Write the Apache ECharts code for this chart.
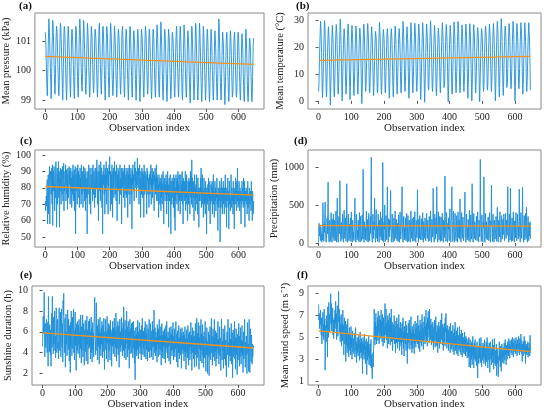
<!DOCTYPE html>
<html>
<head>
<meta charset="utf-8">
<script src="https://cdn.jsdelivr.net/npm/echarts@6/dist/echarts.min.js"></script>
<style>html,body{margin:0;background:#fff}#main{width:550px;height:413px}</style>
</head>
<body>
<div id="main"></div>
<script>
var pressure = [
101.3,101.1,100.8,100.3,99.8,99.4,99.15,99.5,100.1,100.8,101.3,101.75,
101.5,101.2,100.8,100.4,99.9,99.5,99.05,99.4,100.1,100.8,101.4,101.7,
101.6,101.3,100.7,100.3,99.9,99.4,99.2,99.5,100.2,100.9,101.3,101.5,
101.4,101.1,100.6,100.2,99.8,99.3,99.15,99.4,100.0,100.8,101.3,101.6,
101.5,101.2,100.8,100.3,99.8,99.4,99.0,99.4,100.1,100.8,101.3,101.5,
101.4,101.2,100.7,100.2,99.7,99.3,99.0,99.3,100.0,100.7,101.2,101.5,
101.5,101.1,100.7,100.3,99.8,99.4,99.1,99.4,100.1,100.8,101.3,101.4,
101.4,101.0,100.6,100.2,99.8,99.3,99.05,99.4,100.0,100.7,101.2,101.5,
101.5,101.2,100.7,100.3,99.8,99.4,99.1,99.4,100.1,100.8,101.4,101.75,
101.6,101.2,100.8,100.3,99.9,99.5,99.3,99.5,100.1,100.8,101.3,101.7,
101.5,101.1,100.7,100.2,99.8,99.4,99.2,99.5,100.1,100.7,101.2,101.6,
101.4,101.1,100.6,100.1,99.7,99.3,99.1,99.4,100.0,100.7,101.2,101.5,
101.5,101.2,100.7,100.2,99.8,99.4,99.25,99.5,100.1,100.8,101.3,101.4,
101.4,101.1,100.7,100.2,99.8,99.3,99.1,99.4,100.0,100.7,101.2,101.5,
101.6,101.2,100.7,100.2,99.8,99.4,99.2,99.5,100.1,100.8,101.3,101.5,
101.4,101.1,100.6,100.2,99.7,99.3,99.0,99.3,100.0,100.7,101.3,101.5,
101.5,101.2,100.7,100.3,99.8,99.4,99.1,99.4,100.0,100.8,101.3,101.6,
101.4,101.1,100.6,100.1,99.7,99.3,99.15,99.4,100.0,100.7,101.2,101.5,
101.3,101.0,100.6,100.1,99.7,99.3,99.1,99.4,100.0,100.7,101.2,101.4,
101.4,101.1,100.7,100.2,99.8,99.4,99.2,99.5,100.0,100.7,101.2,101.4,
101.5,101.1,100.6,100.2,99.7,99.3,99.1,99.4,100.0,100.7,101.2,101.4,
101.3,101.0,100.6,100.1,99.7,99.3,99.0,99.4,100.0,100.6,101.2,101.5,
101.4,101.1,100.7,100.2,99.8,99.3,99.1,99.4,100.0,100.7,101.2,101.35,
101.4,101.0,100.6,100.1,99.7,99.3,99.0,99.3,99.9,100.6,101.1,101.4,
101.3,101.0,100.6,100.1,99.7,99.3,98.95,99.3,99.9,100.6,101.2,101.4,
101.4,101.1,100.6,100.1,99.7,99.3,99.1,99.4,100.0,100.7,101.2,101.5,
101.5,101.2,100.7,100.2,99.8,99.4,99.2,99.4,100.0,100.7,101.2,101.4,
101.3,101.0,100.6,100.1,99.7,99.3,99.05,99.3,99.9,100.6,101.2,101.4,
101.4,101.1,100.6,100.1,99.7,99.3,99.1,99.4,100.0,100.7,101.2,101.55,
101.5,101.1,100.7,100.2,99.7,99.3,99.1,99.4,100.0,100.7,101.2,101.65,
101.4,101.0,100.6,100.1,99.7,99.2,99.0,99.3,99.9,100.6,101.2,101.4,
101.3,101.0,100.6,100.1,99.6,99.2,98.95,99.3,99.9,100.6,101.1,101.4,
101.4,101.1,100.6,100.1,99.7,99.3,99.05,99.3,99.9,100.6,101.2,101.3,
101.3,101.0,100.6,100.1,99.7,99.3,99.1,99.4,100.0,100.6,101.1,101.4,
101.5,101.1,100.6,100.1,99.7,99.3,99.1,99.4,99.9,100.6,101.2,101.5,
101.4,101.0,100.6,100.1,99.6,99.2,99.0,99.3,99.9,100.6,101.1,101.55,
101.5,101.1,100.7,100.1,99.7,99.3,99.1,99.3,99.9,100.6,101.1,101.35,
101.3,101.0,100.5,100.0,99.6,99.2,98.9,99.3,99.9,100.6,101.2,101.5,
101.4,101.1,100.6,100.1,99.7,99.3,99.0,99.3,99.9,100.6,101.2,101.6,
101.5,101.1,100.6,100.1,99.6,99.2,99.0,99.3,99.9,100.5,101.1,101.6,
101.4,101.0,100.6,100.0,99.6,99.2,98.95,99.2,99.8,100.5,101.1,101.5,
101.3,101.0,100.5,100.0,99.6,99.2,99.0,99.3,99.9,100.6,101.1,101.4,
101.3,101.0,100.5,100.0,99.6,99.2,98.95,99.2,99.8,100.5,101.1,101.4,
101.4,101.0,100.5,100.0,99.6,99.2,99.0,99.3,99.8,100.5,101.1,101.35,
101.3,100.9,100.5,100.0,99.6,99.2,99.0,99.3,99.9,100.6,101.2,101.75,
101.6,101.1,100.6,100.0,99.6,99.2,99.0,99.3,99.9,100.5,101.0,101.3,
101.3,100.9,100.5,100.0,99.6,99.1,98.85,99.2,99.8,100.5,101.0,101.2,
101.3,101.0,100.5,100.0,99.6,99.2,98.95,99.2,99.8,100.5,101.1,101.35,
101.2,100.9,100.5,100.0,99.5,99.1,99.05,99.3,99.9,100.5,101.0,101.2,
101.3,101.0,100.5,100.0,99.6,99.2,99.1,99.3,99.8,100.5,101.1,101.3,
101.2,100.9,100.5,100.0,99.6,99.2,99.0,99.3,99.8,100.4,101.0,101.25,
101.3,100.9,100.4,99.9,99.5,99.1,98.95,99.2,99.8,100.4,101.0,101.4,
101.3,100.9,100.4,99.9,99.5,99.1,98.95,99.2,99.8,100.5,101.0,101.1,
101.0,100.8,100.4,99.9,99.5,99.1,98.95,99.2,99.8,100.4,100.9,101.1
];
var temperature = [
3.5,6,11,17,22,26,29.5,29,24,18,11,4,
1.2,5,10,16,21,26,29.8,29,24,18,11,5,
1.5,4,10,16,21,25,27.5,27,23,17,10,3,
-1.5,4,9,15,21,25,28,27.5,23,17,10,3,
1.5,5,10,16,22,26,28.3,28,24,18,11,4,
2.5,5,10,16,21,26,30.3,29.5,25,19,11,4,
0,4,10,16,21,25,26.8,26.5,23,17,10,4,
2.5,5,10,16,22,26,28.5,28,24,18,11,5,
0.5,4,10,16,21,26,28,27.5,23,17,11,4,
2,5,10,16,21,25,27.8,27.5,24,18,11,4,
2.5,5,11,16,21,25,27,27,23,17,10,3,
-1,3,9,15,21,25,28.5,28,24,18,11,5,
3.5,6,11,16,22,26,28.7,28,24,18,11,4,
3,5,10,16,21,25,27.5,27,23,17,11,5,
2,5,10,15,20,24,25.8,26,23,17,10,4,
3,5,11,16,22,26,29.2,28.5,24,18,11,5,
2.5,5,10,16,21,25,26.5,26.5,23,17,11,4,
3,6,11,16,21,25,26.8,26.5,23,17,11,5,
1,4,10,16,21,25,26.8,27,23,17,11,5,
1.5,4,10,16,21,25,27.8,27.5,23,17,11,5,
2.5,5,10,16,21,25,26.8,26.5,23,18,11,5,
3,6,11,17,22,26,29.5,29,24,18,12,5,
3.5,6,11,16,21,25,27.5,27,23,18,11,4,
1,4,10,16,21,25,29,28.5,24,18,11,5,
3,6,11,16,21,25,28.8,28.5,24,18,11,5,
3.5,6,11,16,22,26,28.5,28,24,18,11,4,
0.5,4,10,16,21,26,29,28.5,24,18,11,4,
-0.5,4,10,16,21,25,28.5,28,24,18,12,5,
4,6,11,17,22,26,29.7,29,24,18,11,5,
3.5,6,11,16,21,25,28,27.5,24,18,11,4,
2,5,10,16,21,25,27,27,23,18,11,5,
3,6,11,16,22,26,29,28.5,24,18,12,5,
4.5,7,11,17,22,26,28.3,28,24,18,11,4,
-0.3,4,10,16,21,25,28,27.5,24,18,11,4,
2.5,5,11,16,21,26,29.3,29,24,18,11,5,
3,6,11,16,22,26,29.5,29,25,19,12,5,
3,5,10,16,21,25,28.2,28,24,18,12,5,
3.5,6,11,17,22,26,28.5,28,24,18,12,6,
1,5,10,16,21,26,28.6,28,24,18,12,5,
0,4,10,16,21,26,28.3,28,24,18,11,5,
3,6,11,17,22,26,27.2,27,24,18,11,4,
-0.3,4,10,16,21,25,26.8,26.5,24,18,12,5,
3.5,6,11,17,22,26,27.8,27.5,24,18,12,5,
4,6,11,17,22,26,28.5,28,24,18,12,6,
3.5,6,11,17,22,26,28.7,28.5,24,19,12,5,
0,4,10,16,22,26,29.5,29,25,19,12,5,
1.5,5,11,17,22,27,30.5,30,25,19,12,5,
2,5,11,17,22,26,27.8,27.5,24,19,12,5,
5,7,12,17,22,26,28.7,28.5,24,19,12,6,
4.5,7,11,17,22,26,29.5,29,25,19,12,5,
0,4,10,17,22,26,28.7,28.5,24,19,12,6,
4.5,7,12,17,22,26,29,28.5,25,19,12,6,
2.5,6,11,17,22,26,29,28.5,24,19,12,5,
3.5,6,11,17,22,26,29,28.5,24,18.5,12,4
];
var humidity = [
72,66,70,75,69,80,85,58,78,88,64,82,
86,93,58,80,90,84,76,88,92,70,94,57,
84,90,78,93,88,66,82,74,92,96,86,56,
80,92,70,88,84,96,74,90,56,86,78,92,
85,70,91,80,76,93,88,72,84,95,66,82,
78,90,82,94,72,86,91,76,88,67,92,80,
74,88,93,82,90,70,84,92,78,86,68,90,
85,76,94,72,88,82,91,66,86,93,52,80,
88,78,92,70,86,94,80,90,74,88,68,84,
92,80,86,70,94,84,76,90,82,68,88,93,
78,88,72,92,84,66,90,80,74,86,52,82,
90,76,88,94,80,70,86,92,78,64,88,84,
80,92,86,72,94,82,76,90,84,68,88,92,
74,86,92,80,97,88,70,84,90,60,86,94,
84,78,90,72,96,86,80,92,68,88,52,84,
90,82,94,76,88,64,92,84,78,96,70,88,
82,92,86,64,90,80,94,88,99,84,66,90,
78,88,70,94,84,62,90,80,92,74,86,96,
84,76,90,82,72,94,86,60,88,80,92,78,
90,82,70,88,94,76,86,80,92,58,84,90,
80,92,86,74,90,82,94,68,88,80,76,92,
86,74,90,84,62,92,80,88,76,94,84,70,
88,80,92,76,86,55,90,82,94,78,88,84,
72,90,96,84,92,80,86,74,90,82,98,88,
80,92,84,70,88,94,78,86,62,90,82,76,
92,84,74,90,80,88,62,94,82,76,90,86,
78,88,82,64,92,84,90,76,86,80,68,88,
84,76,90,82,94,70,86,80,92,74,88,82,
90,80,66,88,84,92,76,86,80,94,72,88,
78,86,72,82,62,88,80,84,70,86,76,66,
84,74,88,70,82,76,90,72,58,84,78,86,
72,82,76,88,80,64,84,76,90,72,82,56,
80,86,72,82,88,74,52,84,76,70,86,78,
74,84,68,88,78,62,86,54,80,72,88,76,
84,70,86,76,90,66,82,74,88,72,78,64,
76,88,72,82,74,90,70,84,58,86,76,80,
72,84,76,90,66,82,74,88,70,78,60,84,
80,70,86,76,84,64,80,90,74,88,70,97,
76,86,68,80,74,84,60,78,88,72,80,66,
82,74,88,70,78,64,86,76,80,56,78,72,
80,72,86,76,92,68,80,74,88,70,78,62,
76,86,70,80,74,64,84,72,78,52,80,74,
70,82,74,86,66,78,72,84,58,76,70,82,
78,72,84,64,80,74,88,70,78,62,76,84,
72,80,66,78,74,86,70,76,54,80,74,68,
78,72,84,47,74,80,68,86,72,78,64,80,
74,84,70,78,64,80,72,88,74,68,78,56,
80,72,76,86,68,78,55,74,84,70,76,66,
74,88,78,68,80,72,76,64,84,70,78,55,
76,80,70,86,74,78,66,84,72,92,76,68,
78,70,84,74,66,80,72,78,58,76,70,84,
72,80,74,68,86,76,70,84,56,78,72,76,
80,70,78,64,74,84,68,76,72,60,80,74,
70,78,74,66,84,72,76,60,78,70,64,72
];
var precipitation = [
5,260,180,90,240,120,30,210,150,60,10,120,
40,530,300,90,20,250,140,380,540,160,40,10,
60,200,330,120,390,800,250,60,10,180,300,90,
20,150,400,260,80,10,310,200,70,380,140,30,
90,300,180,30,260,420,120,10,200,590,160,40,
10,180,350,120,230,820,300,80,20,270,160,50,
100,380,220,40,10,290,430,150,60,200,330,70,
20,250,780,300,90,10,200,380,140,30,250,120,
60,330,180,20,410,250,80,10,300,190,60,140,
30,210,440,590,200,60,10,260,380,120,40,170,
70,300,160,20,230,400,110,10,350,220,80,30,
150,370,210,50,970,320,90,10,280,180,60,200,
40,260,420,150,20,310,200,60,10,390,250,80,
30,200,350,120,500,1130,290,70,10,240,380,100,
60,280,170,590,210,40,10,320,440,150,60,230,
20,160,380,250,70,10,300,200,80,410,180,40,
90,330,210,30,1060,300,120,10,270,180,500,70,
20,250,360,140,40,210,740,280,60,10,320,190,
80,300,170,420,690,200,60,10,250,380,130,40,
10,200,330,120,30,280,420,150,60,240,310,90,
30,260,150,20,370,220,70,10,300,410,160,50,
100,280,410,740,230,60,10,250,350,120,40,200,
60,330,180,30,260,390,140,10,220,360,100,20,
150,300,210,50,10,280,420,170,60,230,320,80,
20,180,340,120,30,270,410,160,60,10,300,200,
70,250,700,240,80,10,310,190,60,360,220,40,
20,160,320,150,40,250,400,130,10,280,210,60,
90,330,200,30,10,260,390,140,60,300,210,50,
20,180,350,120,30,270,420,160,60,10,310,200,
80,260,720,280,90,10,230,380,140,50,200,330,
120,740,300,60,10,250,410,170,40,220,350,90,
20,190,340,130,30,270,390,150,60,10,300,220,
70,280,880,350,100,20,240,400,160,50,10,260,
180,330,120,30,260,450,210,60,10,290,380,740,
300,110,20,250,420,160,50,10,280,390,150,60,
30,200,360,140,10,260,410,180,70,300,220,50,
580,250,90,10,280,400,150,60,230,340,120,30,
100,290,420,670,230,60,10,250,380,140,40,200,
70,310,180,30,260,430,150,10,220,370,110,50,
150,780,300,80,10,240,390,160,60,280,210,40,
20,170,350,130,30,270,410,150,60,10,300,230,
80,290,1100,400,120,20,250,370,140,50,10,270,
200,870,300,90,10,240,390,160,60,280,220,40,
20,170,340,130,30,260,400,150,60,10,290,230,
760,280,110,20,250,380,160,60,10,300,210,50,
30,190,350,140,20,270,470,180,60,10,300,230,
80,280,410,150,40,10,250,360,130,50,200,310,
110,260,380,140,30,10,240,390,170,60,230,300,
100,300,740,250,70,10,260,380,150,40,720,280,
90,20,180,330,120,30,250,410,160,60,10,290,
200,70,300,400,140,30,10,260,380,120,50,220,
80,710,280,90,10,250,400,160,60,230,320,730,
250,80,10,200,360,130,40,270,390,150,60,470,
180,40,10,220,350,120,30,260,180,90,280,50
];
var sunshine = [
4.6,6.2,7.5,5.8,7.0,9.8,6.0,3.6,5.2,6.8,4.5,5.6,
7.2,6.8,4.0,5.5,6.9,2.7,9.4,6.8,5.2,4.1,6.7,5.0,
3.8,6.2,2.7,5.9,7.8,4.5,9.4,6.5,5.0,3.9,7.4,4.8,
6.3,8.0,4.2,5.6,3.5,6.7,8.3,5.1,4.0,6.5,7.2,4.4,
5.0,3.4,7.1,8.3,5.4,4.2,6.4,7.9,3.6,5.2,8.2,6.0,
4.5,6.8,3.1,9.0,7.6,9.7,5.3,4.0,6.1,7.3,2.6,5.4,
7.7,4.8,6.0,3.7,5.5,8.1,6.2,4.3,7.2,5.0,3.2,6.6,
5.8,2.1,6.9,4.6,8.0,5.4,3.7,6.3,7.4,4.4,5.6,8.2,
4.0,6.1,3.3,5.5,7.9,4.7,6.4,2.3,5.1,6.8,4.2,7.0,
5.4,3.9,6.6,4.8,7.2,5.6,3.5,6.0,4.4,7.6,5.1,3.0,
6.5,4.2,5.8,7.6,3.6,5.1,6.8,4.5,2.8,6.2,5.3,7.1,
4.1,5.8,3.2,6.4,7.5,4.8,6.2,2.9,5.4,7.0,4.4,5.9,
7.2,4.6,6.0,3.4,5.7,7.4,4.0,6.3,3.1,5.5,6.9,4.3,
5.9,3.6,6.8,7.8,9.3,7.0,5.2,3.8,6.1,8.8,5.0,4.2,
6.6,3.3,5.4,7.2,4.6,6.0,2.9,5.8,7.4,4.4,5.9,3.7,
6.3,4.8,7.0,5.2,3.5,6.6,4.1,5.7,7.3,4.5,2.4,6.0,
5.1,7.2,4.3,6.0,3.4,5.8,7.5,4.9,6.2,3.1,5.5,6.8,
4.2,6.6,5.0,3.3,7.1,4.7,6.2,5.5,2.7,6.0,4.6,7.0,
5.3,3.9,6.4,4.8,7.3,5.7,3.6,6.1,4.5,7.8,5.0,3.2,
6.5,4.4,5.9,7.0,3.8,5.2,6.6,2.6,5.6,7.2,4.5,6.0,
4.1,5.7,7.4,4.7,6.3,3.7,5.4,6.9,4.2,8.4,6.0,3.5,
5.6,7.1,4.4,6.2,3.3,5.8,8.0,4.9,6.5,3.6,5.3,7.0,
4.3,6.0,2.5,5.4,7.2,4.6,6.3,3.9,5.7,6.8,4.0,5.5,
6.9,3.5,5.2,7.0,4.4,6.1,3.0,5.6,1.4,4.8,6.4,4.1,
5.8,3.7,6.5,4.3,7.1,5.0,3.4,6.0,4.6,6.9,5.3,3.9,
6.2,4.5,5.7,3.3,6.6,4.9,7.3,5.4,3.8,6.1,4.4,5.9,
3.6,6.4,4.8,7.0,5.2,3.4,5.9,4.3,6.7,5.0,3.2,5.7,
6.3,4.1,5.6,7.2,4.6,3.5,5.8,6.8,4.2,5.5,3.6,6.1,
4.5,7.0,5.1,3.3,6.2,4.6,8.1,5.7,4.0,6.4,3.7,5.3,
6.0,4.2,5.5,3.1,6.7,4.8,5.9,3.6,6.3,4.4,7.2,5.0,
3.8,5.6,4.3,6.5,2.8,5.2,6.8,4.1,5.7,3.5,6.1,4.6,
5.9,3.4,6.3,4.7,5.6,3.0,6.6,4.4,5.2,7.0,4.0,5.5,
3.5,6.0,4.6,5.4,3.2,6.4,4.8,5.9,2.9,5.0,6.5,4.2,
5.7,3.7,6.2,4.3,6.9,4.9,3.3,5.6,4.1,6.3,3.6,5.2,
4.4,7.0,5.0,3.1,5.8,4.5,6.1,2.6,5.3,4.0,6.6,4.8,
3.4,5.5,4.2,6.3,3.8,5.9,2.5,4.9,6.4,4.3,5.6,3.9,
6.0,4.5,3.2,5.7,4.1,6.5,3.6,5.3,2.4,4.8,6.2,4.0,
5.4,3.5,6.6,4.4,2.8,5.8,4.2,6.0,3.3,5.2,4.6,6.9,
3.9,5.7,2.3,4.8,6.4,4.0,5.5,3.4,6.1,4.5,2.6,5.6,
4.3,6.8,3.8,5.2,2.7,7.3,4.6,5.9,3.5,5.0,6.9,4.1,
2.4,5.5,4.4,6.6,3.2,5.1,7.2,4.2,5.8,3.0,4.9,6.7,
3.7,5.6,2.6,4.6,6.0,3.5,5.3,7.0,4.1,2.2,5.4,3.8,
6.4,4.4,2.0,5.1,3.6,6.0,4.5,1.8,5.7,3.9,6.5,4.3,
3.3,5.2,7.3,4.0,5.6,2.8,4.8,6.3,3.6,5.5,4.2,7.2,
3.2,5.0,4.1,6.1,2.7,4.6,5.9,3.4,5.2,4.4,7.0,3.9,
5.3,2.9,4.6,6.5,3.7,5.4,4.0,2.3,5.7,7.2,4.5,3.3,
5.1,4.2,6.3,2.5,4.7,5.8,3.4,6.6,4.3,2.8,5.2,4.0,
1.7,4.4,6.0,3.8,5.5,7.2,4.1,2.6,5.0,3.7,6.4,4.6,
3.2,5.3,4.0,6.8,2.9,4.7,5.9,1.6,4.5,6.2,3.6,5.1,
4.2,7.0,3.4,5.5,2.4,4.8,6.3,3.8,5.4,1.9,4.4,5.8,
3.3,5.0,6.8,4.1,2.7,5.6,3.6,6.4,4.6,2.9,5.2,4.0,
6.6,3.7,5.1,2.1,4.5,6.0,3.4,5.4,7.2,4.2,2.6,5.0,
3.8,5.6,4.3,2.0,5.3,6.9,3.9,4.8,2.2,5.5,7.2,4.0,
2.1,5.0,6.3,4.1,3.1,5.7,4.5,2.9,4.8,3.6,4.7,4.5
];
var windSpeed = [
8.0,6.6,7.2,5.8,6.9,6.2,7.5,6.0,5.2,6.8,4.4,5.9,
6.5,7.3,5.1,6.2,4.8,7.6,5.5,6.7,2.0,5.4,6.1,4.6,
7.0,5.8,6.4,3.2,7.8,6.1,5.0,8.2,6.6,7.1,5.5,6.3,
7.4,9.0,6.2,8.1,5.6,7.0,6.4,7.7,5.2,6.6,4.9,6.0,
6.8,5.4,7.5,6.3,8.3,5.8,7.2,4.8,6.5,7.9,6.0,5.1,
7.0,9.2,6.4,7.6,5.5,6.9,4.6,6.2,5.3,7.1,4.2,5.8,
6.3,4.7,7.5,5.6,6.1,3.4,5.9,6.8,4.4,5.2,6.5,2.8,
5.6,4.3,6.2,3.6,5.1,6.7,4.0,5.4,3.2,4.8,5.9,3.8,
4.6,5.3,3.4,6.0,4.1,5.0,3.0,4.5,5.6,3.7,4.9,4.2,
3.5,4.7,5.4,3.2,4.3,5.9,3.8,4.6,2.7,4.1,5.0,3.6,
4.4,3.3,5.2,4.0,4.8,2.9,4.2,5.5,3.6,4.5,3.1,4.9,
3.7,4.6,1.7,4.1,5.0,3.4,4.4,3.0,5.3,3.9,4.7,2.6,
4.2,3.5,4.9,1.6,3.8,4.6,2.9,4.3,3.3,5.1,2.5,3.9,
3.1,4.4,2.4,3.7,4.8,2.2,3.4,1.9,1.2,2.8,3.6,2.3,
4.0,5.5,7.6,5.1,4.3,6.4,4.8,7.2,5.6,4.4,6.0,5.2,
6.8,4.7,7.4,5.5,6.2,4.4,7.0,5.8,4.9,6.6,5.3,7.5,
5.0,6.4,4.6,7.1,5.7,4.2,6.8,5.2,6.0,4.5,7.3,8.1,
6.0,5.2,7.6,4.8,6.3,5.6,4.0,7.0,5.4,6.6,4.4,5.9,
7.2,5.0,6.1,4.3,6.8,5.4,7.6,4.6,5.8,6.4,3.8,5.5,
6.2,4.8,5.7,7.0,4.4,6.0,5.2,3.6,6.5,5.0,4.5,6.8,
5.3,4.0,6.2,5.6,4.6,7.1,5.0,3.8,5.9,4.5,6.4,5.1,
4.2,5.8,3.4,6.3,5.2,4.6,6.8,4.0,5.5,3.3,6.0,4.8,
5.6,4.4,6.5,3.8,5.1,6.1,4.6,2.6,5.4,4.0,6.3,5.0,
4.5,6.6,5.2,3.9,5.8,4.8,6.9,4.3,5.4,3.6,6.0,5.1,
4.0,5.6,4.6,6.2,3.5,5.3,4.4,6.5,5.0,4.1,5.8,4.6,
6.3,5.1,4.4,7.0,5.4,4.0,6.1,4.8,5.6,3.7,6.6,5.2,
4.5,6.2,5.5,4.2,7.1,5.0,4.6,6.4,3.9,5.8,4.8,6.9,
5.3,4.4,6.0,5.1,7.5,4.7,6.3,5.4,4.2,6.8,5.0,7.4,
5.8,6.5,4.5,7.6,5.2,6.0,4.8,6.7,5.5,4.3,6.2,5.6,
4.6,6.4,5.2,3.9,5.9,4.7,6.6,5.3,4.1,5.7,6.9,4.8,
5.5,4.2,6.1,5.0,3.6,5.8,4.6,6.4,5.3,4.0,6.0,5.2,
4.4,6.6,5.4,4.8,7.2,5.1,4.3,6.2,5.6,3.8,5.9,4.7,
6.3,5.0,4.2,6.8,5.5,7.2,4.6,5.8,4.0,6.1,5.2,4.5,
5.7,3.8,5.2,6.0,4.4,5.5,3.6,6.3,4.8,4.1,5.6,3.9,
5.0,4.3,6.1,3.7,5.4,4.6,3.4,5.8,4.4,6.4,3.8,5.1,
4.2,5.6,3.5,4.8,5.9,4.0,3.3,5.2,4.6,3.9,6.0,4.4,
3.7,5.3,4.5,3.4,5.7,4.1,4.9,3.2,5.4,4.3,3.6,5.0,
4.4,3.5,5.5,4.0,4.8,3.3,5.1,4.2,3.7,4.9,3.1,4.5,
3.9,4.7,3.2,5.0,2.3,4.3,3.6,4.8,2.2,3.9,4.4,3.0,
4.6,2.5,3.8,5.1,3.3,4.2,2.2,3.7,4.5,3.0,4.8,3.4,
2.8,4.1,3.5,2.4,4.6,3.2,1.3,3.8,4.2,2.6,3.5,4.9,
3.1,4.4,2.7,3.6,5.0,3.3,2.3,4.1,3.7,2.9,4.5,3.2,
4.3,2.6,3.5,4.8,3.0,4.0,2.4,3.8,4.6,2.8,3.6,5.0,
3.4,2.2,4.2,3.6,2.9,4.5,3.2,1.8,3.9,4.6,3.0,3.7,
2.5,4.0,3.3,4.8,2.7,3.6,4.3,2.1,3.4,4.9,3.1,2.6,
3.8,2.4,3.5,4.4,1.5,3.0,3.9,2.6,3.3,1.4,2.8,3.6,
4.6,2.9,3.7,2.3,4.2,3.1,1.9,3.5,4.4,2.7,3.8,3.2,
4.1,3.3,2.6,4.5,3.6,2.9,4.8,3.4,4.0,2.5,4.3,3.7,
3.0,4.6,3.5,4.1,3.3,4.9,3.8,4.4,3.1,4.7,3.9,4.2,
3.6,4.8,4.0,3.4,5.0,3.9,4.5,3.2,4.3,4.9,3.7,4.1,
4.7,3.5,4.2,5.0,3.8,4.4,3.3,4.8,4.0,3.6,4.6,5.1,
3.9,4.5,3.4,4.9,4.1,3.7,5.3,4.2,3.5,4.7,2.8,4.4,
4.0,3.3,4.6,3.8,5.1,4.3,3.5,4.7,2.6,4.2,3.6,4.4,
3.4,4.2,3.7,4.6,3.2,4.0,3.5,4.5,3.9,3.3,5.2,3.6
];

// linear trend end points (first and last observation)
var trendX = [0, 647];
var trendA = [100.48, 100.21];
var trendB = [15.0, 16.5];
var trendC = [80.8, 75.6];
var trendD = [228, 222];
var trendE = [5.9, 4.45];
var trendF = [5.6, 3.7];

// tick labels
var xTicks = [0, 100, 200, 300, 400, 500, 600];
var ticksA = [99, 100, 101];
var ticksB = [0, 10, 20, 30];
var ticksC = [50, 60, 70, 80, 90, 100];
var ticksD = [0, 500, 1000];
var ticksE = [2, 4, 6, 8, 10];
var ticksF = [1, 3, 5, 7, 9];

var serif = "'Liberation Serif', 'Times New Roman', serif";

var panels = [
	{ tag: '(a)', name: 'Mean pressure (kPa)', data: pressure, trend: trendA, ticks: ticksA, min: 98.7, max: 101.95, left: 32, top: 13, w: 232, h: 96, gap: 21, xgap: 13, tx: 19, ty: 1 },
	{ tag: '(b)', name: 'Mean temperature (°C)', data: temperature, trend: trendB, ticks: ticksB, min: -3, max: 32.6, left: 308, top: 13, w: 233, h: 96, gap: 22, xgap: 13, tx: 296, ty: 1 },
	{ tag: '(c)', name: 'Relative humidity (%)', data: humidity, trend: trendC, ticks: ticksC, min: 44, max: 103, left: 32, top: 150, w: 232, h: 97, gap: 19, xgap: 12, tx: 20, ty: 136 },
	{ tag: '(d)', name: 'Precipitation (mm)', data: precipitation, trend: trendD, ticks: ticksD, min: -53, max: 1224, left: 308, top: 150, w: 233, h: 97, gap: 23, xgap: 12, tx: 294, ty: 136 },
	{ tag: '(e)', name: 'Sunshine duration (h)', data: sunshine, trend: trendE, ticks: ticksE, min: 0.9, max: 10.4, left: 32, top: 286, w: 232, h: 99, gap: 18, xgap: 14, tx: 20, ty: 270 },
	{ tag: '(f)', name: 'Mean wind speed (m s\u207B\u00B9)', data: windSpeed, trend: trendF, ticks: ticksF, min: 0.65, max: 9.7, left: 308, top: 286, w: 233, h: 99, gap: 17, xgap: 14, tx: 297, ty: 270 }
];

function toPairs(arr) {
	return arr.map(function(v, i) { return [i, v]; });
}

// plain numbers, no thousands separator
function plain(v) {
	return String(v);
}

var grid = [], xAxis = [], yAxis = [], series = [], graphic = [];
for (var i = 0; i < panels.length; i++) {
	var p = panels[i];
	grid.push({ left: p.left, top: p.top, width: p.w, height: p.h, show: true, borderColor: '#8a8a8a', borderWidth: 1, backgroundColor: 'transparent' });
	xAxis.push({
		type: 'value', gridIndex: i, min: -32.4, max: 679.4,
		name: 'Observation index', nameLocation: 'middle', nameGap: p.xgap,
		nameTextStyle: { fontFamily: serif, fontSize: 11, color: '#222' },
		axisLine: { show: false },
		axisTick: { show: true, length: 3, customValues: xTicks, lineStyle: { color: '#555' } },
		axisLabel: { customValues: xTicks, formatter: plain, margin: 3, fontFamily: serif, fontSize: 10, color: '#222' },
		splitLine: { show: false }
	});
	yAxis.push({
		type: 'value', gridIndex: i, min: p.min, max: p.max,
		name: p.name, nameLocation: 'middle', nameGap: p.gap,
		nameTextStyle: { fontFamily: serif, fontSize: 10.5, color: '#222' },
		axisLine: { show: false },
		axisTick: { show: true, length: 3, customValues: p.ticks, lineStyle: { color: '#555' } },
		axisLabel: { customValues: p.ticks, formatter: plain, margin: 4, fontFamily: serif, fontSize: 10, color: '#222' },
		splitLine: { show: false }
	});
	series.push({
		type: 'line', xAxisIndex: i, yAxisIndex: i, data: toPairs(p.data),
		showSymbol: false, lineStyle: { color: '#1e8fd8', width: 0.9 }, z: 2
	});
	series.push({
		type: 'line', xAxisIndex: i, yAxisIndex: i,
		data: [[trendX[0], p.trend[0]], [trendX[1], p.trend[1]]],
		showSymbol: false, lineStyle: { color: '#f5921e', width: 1.3 }, z: 3
	});
	graphic.push({ type: 'text', left: p.tx, top: p.ty, style: { text: p.tag, font: 'bold 11px ' + serif, fill: '#111' } });
}

var chart = echarts.init(document.getElementById('main'));
chart.setOption({
	animation: false,
	backgroundColor: '#fff',
	grid: grid,
	xAxis: xAxis,
	yAxis: yAxis,
	series: series,
	graphic: graphic
});
</script>
</body>
</html>
